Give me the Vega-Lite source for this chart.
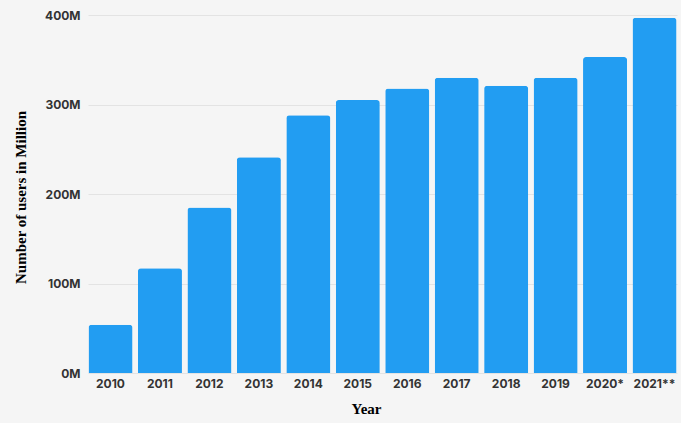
{
  "$schema": "https://vega.github.io/schema/vega-lite/v6.json",
  "autosize": "none",
  "width": 589,
  "height": 358,
  "padding": {"left": 88, "top": 15, "right": 4, "bottom": 50},
  "background": "#f5f5f5",
  "config": {"view": {"stroke": null}},
  "data": {
    "values": [
      {"year": "2010", "users": 54},
      {"year": "2011", "users": 117},
      {"year": "2012", "users": 185},
      {"year": "2013", "users": 241},
      {"year": "2014", "users": 288},
      {"year": "2015", "users": 305},
      {"year": "2016", "users": 318},
      {"year": "2017", "users": 330},
      {"year": "2018", "users": 321},
      {"year": "2019", "users": 330},
      {"year": "2020*", "users": 353},
      {"year": "2021**", "users": 397}
    ]
  },
  "mark": {"type": "bar", "color": "#229df2", "cornerRadiusTopLeft": 3, "cornerRadiusTopRight": 3},
  "encoding": {
    "x": {
      "field": "year", "type": "nominal", "sort": null,
      "scale": {"paddingInner": 0.11, "paddingOuter": 0.01},
      "axis": {
        "title": "Year", "labelAngle": 0, "domain": false, "ticks": false,
        "labelPadding": 5, "labelFont": "Inter", "labelFontWeight": "bold", "labelFontSize": 12, "labelColor": "#333333",
        "titleFont": "Liberation Serif", "titleFontSize": 15, "titleFontWeight": "bold", "titleColor": "#000000",
        "titlePadding": 12, "titleX": 278
      }
    },
    "y": {
      "field": "users", "type": "quantitative",
      "scale": {"domain": [0, 400]},
      "axis": {
        "title": "Number of users in Million", "values": [0, 100, 200, 300, 400],
        "labelExpr": "datum.value + 'M'", "domain": false, "ticks": false,
        "labelPadding": 8, "labelFont": "Inter", "labelFontWeight": "bold", "labelFontSize": 12, "labelColor": "#333333",
        "gridColor": "#e3e3e3", "gridWidth": 1,
        "titleFont": "Liberation Serif", "titleFontSize": 15, "titleFontWeight": "bold", "titleColor": "#000000",
        "titlePadding": 16, "titleY": 182
      }
    }
  }
}
